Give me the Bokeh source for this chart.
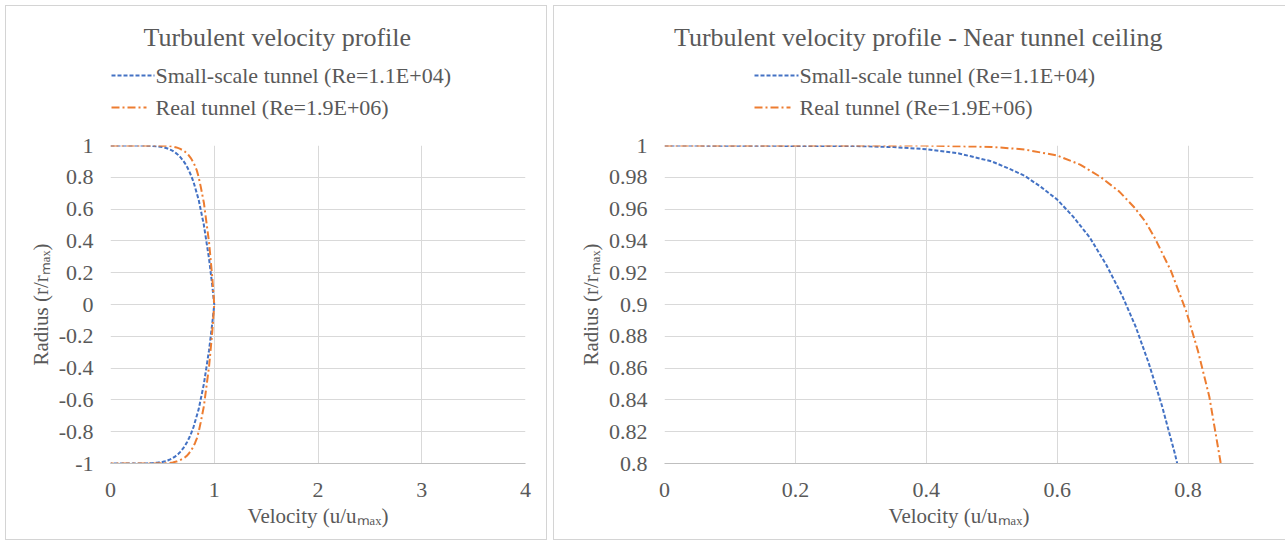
from bokeh.plotting import figure
from bokeh.models import FixedTicker, Range1d
from bokeh.layouts import row, column
from bokeh.core.properties import value
from bokeh.embed import file_html
from bokeh.resources import INLINE

# ---------------- data ----------------
series_names = ["Small-scale tunnel (Re=1.1E+04)", "Real tunnel (Re=1.9E+06)"]

small_u = [0.0, 0.30, 0.35, 0.40, 0.45, 0.50, 0.525, 0.55, 0.575, 0.60, 0.625, 0.65, 0.675, 0.70,
           0.72, 0.74, 0.76, 0.78, 0.80, 0.85, 0.90, 0.95, 0.98, 1.0,
           0.98, 0.95, 0.90, 0.85, 0.80, 0.78, 0.76, 0.74, 0.72, 0.70, 0.675, 0.65, 0.625, 0.60,
           0.575, 0.55, 0.525, 0.50, 0.45, 0.40, 0.35, 0.30, 0.0]
small_r = [1.0, 0.9996, 0.999, 0.9977, 0.995, 0.990, 0.9857, 0.981, 0.974, 0.966, 0.955, 0.942,
           0.925, 0.905, 0.886, 0.863, 0.8365, 0.806, 0.771, 0.658, 0.50, 0.287, 0.125, 0.0,
           -0.125, -0.287, -0.50, -0.658, -0.771, -0.806, -0.8365, -0.863, -0.886, -0.905,
           -0.925, -0.942, -0.955, -0.966, -0.974, -0.981, -0.9857, -0.990, -0.995, -0.9977,
           -0.999, -0.9996, -1.0]

real_u = [0.0, 0.40, 0.50, 0.55, 0.60, 0.635, 0.667, 0.695, 0.718, 0.735, 0.749, 0.774, 0.797,
          0.815, 0.8325, 0.85, 0.87, 0.90, 0.95, 0.98, 1.0,
          0.98, 0.95, 0.90, 0.87, 0.85, 0.8325, 0.815, 0.797, 0.774, 0.749, 0.735, 0.718, 0.695,
          0.667, 0.635, 0.60, 0.55, 0.50, 0.40, 0.0]
real_r = [1.0, 0.99993, 0.9991, 0.9975, 0.9937, 0.988, 0.980, 0.971, 0.961, 0.952, 0.942, 0.921,
          0.896, 0.871, 0.842, 0.80, 0.74, 0.64, 0.39, 0.178, 0.0,
          -0.178, -0.39, -0.64, -0.74, -0.80, -0.842, -0.871, -0.896, -0.921, -0.942, -0.952,
          -0.961, -0.971, -0.980, -0.988, -0.9937, -0.9975, -0.9991, -0.99993, -1.0]

left_x_ticks = [0, 1, 2, 3, 4]
left_x_labels = ["0", "1", "2", "3", "4"]
left_y_ticks = [-1, -0.8, -0.6, -0.4, -0.2, 0, 0.2, 0.4, 0.6, 0.8, 1]
left_y_labels = ["-1", "-0.8", "-0.6", "-0.4", "-0.2", "0", "0.2", "0.4", "0.6", "0.8", "1"]

right_x_ticks = [0, 0.2, 0.4, 0.6, 0.8]
right_x_labels = ["0", "0.2", "0.4", "0.6", "0.8"]
right_y_ticks = [0.8, 0.82, 0.84, 0.86, 0.88, 0.9, 0.92, 0.94, 0.96, 0.98, 1]
right_y_labels = ["0.8", "0.82", "0.84", "0.86", "0.88", "0.9", "0.92", "0.94", "0.96", "0.98", "1"]

titles = ["Turbulent velocity  profile", "Turbulent velocity  profile - Near tunnel ceiling"]
x_label = "Velocity (u/uₘₐₓ)"
y_label = "Radius (r/rₘₐₓ)"

# ---------------- style ----------------
FONT = "Liberation Serif"
TXT = "#595959"
GRID = "#d9d9d9"
BORDER = "#d4d4d4"
BLUE = "#4472C4"
ORANGE = "#ED7D31"
BLUE_DASH = "4 2"
ORANGE_DASH = "8 3 2 3"
HEAD_H = 120
PANEL_H = 535


def header(width, min_left, min_right, fx0, fx1, title, title_x, leg_x0, leg_x1, right_border=True):
    # header strip: x in page pixels (frame aligned with the plot frame below), y in pixels from top
    h = figure(width=width, height=HEAD_H, x_range=Range1d(fx0, fx1), y_range=Range1d(HEAD_H, 0),
               output_backend="svg", toolbar_location=None,
               min_border_left=min_left, min_border_right=min_right,
               min_border_top=0, min_border_bottom=0,
               x_axis_location=None, y_axis_location=None)
    st = {"border": "1px solid " + BORDER, "border-bottom": "none", "box-sizing": "border-box"}
    if not right_border:
        st["border-right"] = "none"
    h.styles = st
    h.grid.visible = False
    h.outline_line_color = None
    h.title.visible = False
    h.text(x=[title_x], y=[31], text=[title], text_font=value(FONT), text_font_size=value("26px"),
           text_color=TXT, text_align="center", text_baseline="alphabetic")
    rows_y = [69, 101]
    h.line([leg_x0, leg_x1], [rows_y[0], rows_y[0]], line_color=BLUE, line_width=2, line_dash=BLUE_DASH)
    h.line([leg_x0, leg_x1 - 8], [rows_y[1], rows_y[1]], line_color=ORANGE, line_width=2,
           line_dash=ORANGE_DASH)
    h.text(x=[leg_x1 + 1, leg_x1 + 1], y=rows_y, text=series_names, text_font=value(FONT),
           text_font_size=value("22px"), text_color=TXT, text_align="left", text_baseline="middle")
    return h


def make(width, xr, yr, xt, xl, yt, yl, min_left, min_right, right_border=True):
    p = figure(width=width, height=PANEL_H - HEAD_H, x_range=Range1d(*xr), y_range=Range1d(*yr),
               output_backend="svg", toolbar_location=None,
               min_border_left=min_left, min_border_right=min_right,
               min_border_top=145 - 5 - HEAD_H, min_border_bottom=77)
    st = {"border": "1px solid " + BORDER, "border-top": "none", "box-sizing": "border-box"}
    if not right_border:
        st["border-right"] = "none"
    p.styles = st
    p.outline_line_color = None
    p.title.visible = False

    p.xaxis.ticker = FixedTicker(ticks=xt)
    p.xaxis.major_label_overrides = {t: l for t, l in zip(xt, xl)}
    p.yaxis.ticker = FixedTicker(ticks=yt)
    p.yaxis.major_label_overrides = {t: l for t, l in zip(yt, yl)}

    for ax in (p.xaxis, p.yaxis):
        ax.major_tick_line_color = None
        ax.minor_tick_line_color = None
        ax.major_label_text_font = FONT
        ax.major_label_text_font_size = "22px"
        ax.major_label_text_color = TXT
        ax.axis_label_text_font = FONT
        ax.axis_label_text_font_size = "21px"
        ax.axis_label_text_font_style = "normal"
        ax.axis_label_text_color = TXT
    p.xaxis.axis_line_color = "#bfbfbf"
    p.yaxis.axis_line_color = None
    p.xaxis.major_label_standoff = 13
    p.yaxis.major_label_standoff = 11
    p.xaxis.axis_label = x_label
    p.yaxis.axis_label = y_label
    p.xaxis.axis_label_standoff = 4
    p.yaxis.axis_label_standoff = 3

    p.xgrid.grid_line_color = GRID
    p.ygrid.grid_line_color = GRID

    p.line(small_u, small_r, line_color=BLUE, line_width=2, line_dash=BLUE_DASH)
    p.line(real_u, real_r, line_color=ORANGE, line_width=2, line_dash=ORANGE_DASH)
    return p


W1, W2 = 542, 732
h1 = header(W1, 104, 23, 109, 524, titles[0], 279, 110, 153)
p1 = make(W1, (0, 4), (-1, 1), left_x_ticks, left_x_labels, left_y_ticks, left_y_labels, 104, 23)
h2 = header(W2, 110, 33, 663, 1252, titles[1], 920, 753, 797, right_border=False)
p2 = make(W2, (0, 0.9), (0.8, 1), right_x_ticks, right_x_labels, right_y_ticks, right_y_labels,
          110, 33, right_border=False)

layout = row(column(h1, p1, spacing=0), column(h2, p2, spacing=0), spacing=6, margin=(5, 0, 0, 5))
open("out.html", "w").write(file_html(layout, INLINE))
